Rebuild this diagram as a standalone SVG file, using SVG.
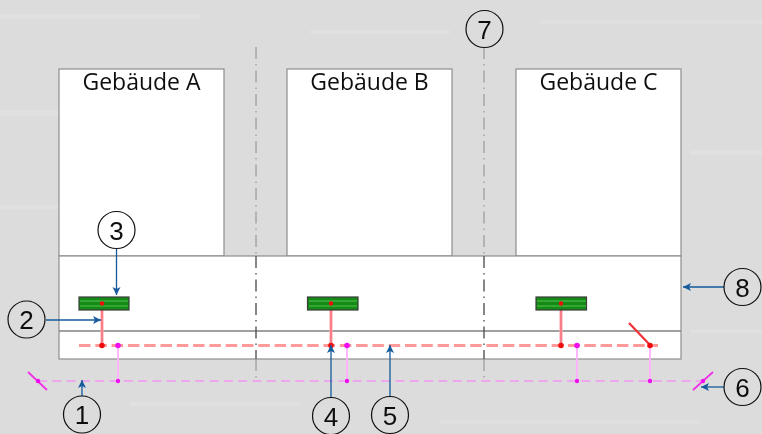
<svg xmlns="http://www.w3.org/2000/svg" width="762" height="434" viewBox="0 0 762 434">
<style>
.bld{fill:#fff;stroke:#8e8e8e;stroke-width:1.2}
.bldt{font-family:"Open Sans","Noto Sans",sans-serif;font-size:23px;fill:#111;text-anchor:middle}
.axis{fill:none;stroke:#8a8a8a;stroke-width:1;stroke-dasharray:12 5 1.500 5}
.axisb{fill:none;stroke:#555;stroke-width:1.400;stroke-dasharray:12 5 1.500 5}
.sep{fill:none;stroke:#808080;stroke-width:1.400}
.main{fill:none;stroke:#ff9a9a;stroke-width:3;stroke-dasharray:11.500 4.800}
.red{fill:none;stroke:#ffb0b8;stroke-width:3.200}
.redc{fill:none;stroke:#f04a55;stroke-width:1}
.redd{fill:none;stroke:#f2303a;stroke-width:2.200}
.pkl{fill:none;stroke:#ff70ff;stroke-width:1;stroke-dasharray:9 5.300}
.pkv{fill:none;stroke:#ffb0ff;stroke-width:1.800}
.pkt{fill:none;stroke:#f030e8;stroke-width:1.800}
.rd{fill:#f01010}.pd{fill:#f010f0}
.gr{fill:#128a16;stroke:#3c3c3c;stroke-width:1.200}
.grl{stroke:#4fc44f;stroke-width:1;fill:none}
.c{fill:none;stroke:#111;stroke-width:1.200}
.n{font-family:"Liberation Sans",Arial,sans-serif;font-size:26px;fill:#111;text-anchor:middle}
.ar{fill:none;stroke:#155a9c;stroke-width:1.300;marker-end:url(#a)}
</style>
<defs>
<marker id="a" markerUnits="userSpaceOnUse" markerWidth="9" markerHeight="9" refX="8" refY="4.500" orient="auto"><path d="M0 0.500L8 4.500L0 8.500L2 4.500Z" fill="#155a9c"/></marker>
<filter id="s" x="-2%" y="-2%" width="104%" height="104%"><feGaussianBlur stdDeviation="0.400"/></filter>
</defs>
<rect width="762" height="434" fill="#dcdcdc"/>
<g id="background-streaks" fill="#e0e0e0">
<rect x="0" y="14" width="200" height="5"/><rect x="310" y="30" width="140" height="4"/><rect x="540" y="20" width="222" height="4"/>
<rect x="0" y="110" width="58" height="6"/><rect x="690" y="150" width="72" height="5"/><rect x="0" y="205" width="58" height="4"/>
<rect x="690" y="330" width="72" height="3"/><rect x="130" y="402" width="170" height="4"/><rect x="440" y="420" width="260" height="4"/>
</g>
<g filter="url(#s)">
<g id="gebaeude-a"><rect class="bld" x="59" y="69" width="165" height="187"/><text class="bldt" x="141.500" y="90">Gebäude A</text></g>
<g id="gebaeude-b"><rect class="bld" x="287" y="69" width="165" height="187"/><text class="bldt" x="369.500" y="90">Gebäude B</text></g>
<g id="gebaeude-c"><rect class="bld" x="516" y="69" width="165" height="187"/><text class="bldt" x="598.500" y="90">Gebäude C</text></g>
<g id="street"><rect class="bld" x="59" y="256" width="622" height="103"/><path class="sep" d="M59 331H681"/></g>
<g id="connectors">
<path class="axis" d="M256 47V256M484 47V256M256 359V381M484 359V381"/>
<path class="axisb" d="M256 256V359M484 256V359"/>
<path class="pkl" d="M38 381H703"/>
<path class="main" d="M79 345.500H658"/>
<path class="red" d="M102 303V345M331 303V345M561 303V345"/>
<path class="redc" d="M102 303V345M331 303V345M561 303V345"/>
<path class="pkv" d="M118 345V381M347 345V381M577 345V381M650 345V381"/>
<path class="redd" d="M629 323L650 345"/>
<path class="pkt" d="M28 372L47 390M693 390L713 372"/>
</g>
<g id="hausanschluss-a"><rect class="gr" x="79" y="297" width="50" height="13"/><path class="grl" d="M80 301H128M80 306H128"/></g>
<g id="hausanschluss-b"><rect class="gr" x="307.500" y="297" width="50.500" height="13"/><path class="grl" d="M309 301H357M309 306H357"/></g>
<g id="hausanschluss-c"><rect class="gr" x="536" y="297" width="50.500" height="13"/><path class="grl" d="M537 301H586M537 306H586"/></g>
<g id="dots">
<circle class="rd" cx="102" cy="303.500" r="2.200"/><circle class="rd" cx="331" cy="303.500" r="2.200"/><circle class="rd" cx="561" cy="303.500" r="2.200"/>
<circle class="rd" cx="102" cy="345.500" r="2.800"/><circle class="rd" cx="331" cy="345.500" r="2.800"/><circle class="rd" cx="561" cy="345.500" r="2.800"/><circle class="rd" cx="650" cy="345.500" r="2.800"/>
<circle class="pd" cx="118" cy="345.500" r="2.800"/><circle class="pd" cx="347" cy="345.500" r="2.800"/><circle class="pd" cx="577" cy="345.500" r="2.800"/>
<circle class="pd" cx="118" cy="381" r="2.200"/><circle class="pd" cx="347" cy="381" r="2.200"/><circle class="pd" cx="577" cy="381" r="2.200"/><circle class="pd" cx="650" cy="381" r="2.200"/>
<circle class="pd" cx="38" cy="381" r="2.200"/><circle class="pd" cx="703" cy="381" r="2.200"/>
</g>
<g id="leaders">
<path class="ar" d="M116.500 249V295"/>
<path class="ar" d="M46 320H101"/>
<path class="ar" d="M82 396V380"/>
<path class="ar" d="M331 397V345"/>
<path class="ar" d="M390 396V345"/>
<path class="ar" d="M724 387H701"/>
<path class="ar" d="M724 287H683"/>
</g>
<g id="label-1"><circle class="c" cx="82" cy="414.500" r="18.500"/><text class="n" x="82" y="424">1</text></g>
<g id="label-2"><circle class="c" cx="26.500" cy="319.500" r="18.500"/><text class="n" x="26.500" y="329">2</text></g>
<g id="label-3"><circle class="c" cx="116.500" cy="230" r="18.500"/><text class="n" x="116.500" y="239.500">3</text></g>
<g id="label-4"><circle class="c" cx="331" cy="416" r="18.500"/><text class="n" x="331" y="425.500">4</text></g>
<g id="label-5"><circle class="c" cx="390" cy="415" r="18.500"/><text class="n" x="390" y="424.500">5</text></g>
<g id="label-6"><circle class="c" cx="742.500" cy="387" r="18.500"/><text class="n" x="742.500" y="396.500">6</text></g>
<g id="label-7"><circle class="c" cx="484.500" cy="29" r="18.500"/><text class="n" x="484.500" y="38.500">7</text></g>
<g id="label-8"><circle class="c" cx="742.500" cy="287" r="18.500"/><text class="n" x="742.500" y="296.500">8</text></g>
</g>
</svg>
